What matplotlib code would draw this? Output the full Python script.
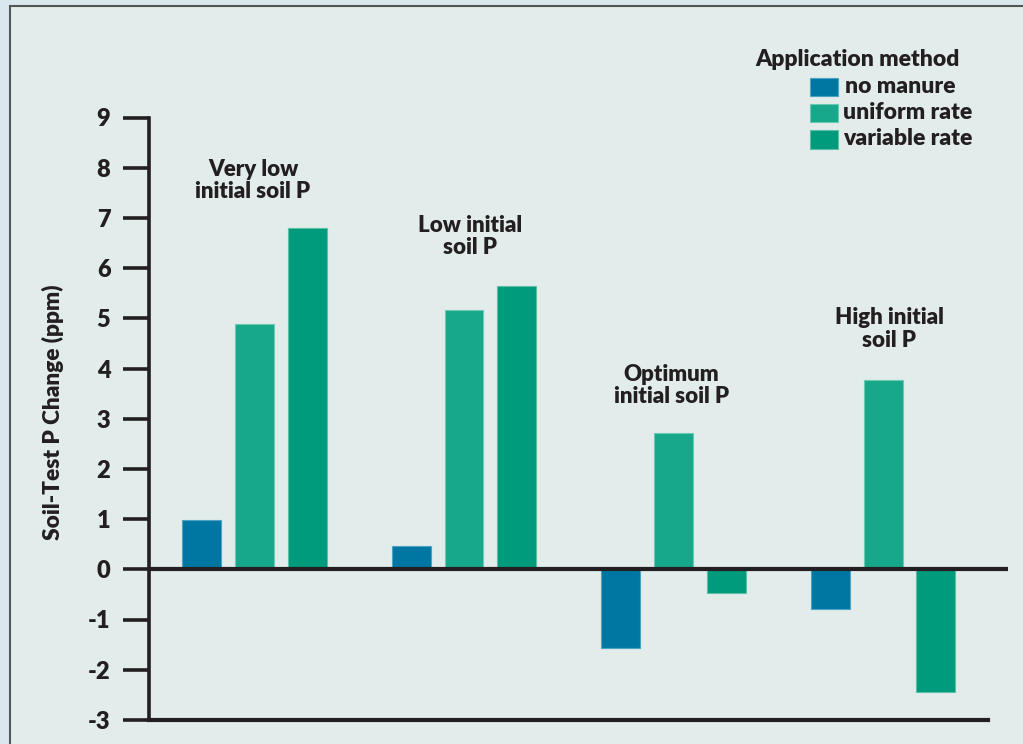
import matplotlib
matplotlib.use("Agg")
import matplotlib.pyplot as plt
from matplotlib.patches import Rectangle

# ---- data ----
groups = ["Very low\ninitial soil P", "Low initial\nsoil P", "Optimum\ninitial soil P", "High initial\nsoil P"]
series_names = ["no manure", "uniform rate", "variable rate"]
no_manure = [0.98, 0.47, -1.56, -0.79]
uniform_rate = [4.88, 5.17, 2.71, 3.78]
variable_rate = [6.79, 5.65, -0.48, -2.45]
y_ticks = [-3, -2, -1, 0, 1, 2, 3, 4, 5, 6, 7, 8, 9]

# ---- style ----
colors = ["#0077a2", "#17a88b", "#009a7c"]
edge_colors = ["#4aa3c0", "#6cc9b3", "#5cc0a6"]
dark = "#231f20"
panel_bg = "#e2ecea"
outer_bg = "#d9e8ef"
WEIGHT = "heavy"
plt.rcParams['font.family'] = ["Lato", "DejaVu Sans"]
plt.rcParams['font.weight'] = WEIGHT

W, H = 1023, 744
fig = plt.figure(figsize=(W / 100, H / 100), dpi=100)
fig.patch.set_facecolor(outer_bg)

def fx(px):
    return px / W

def fy(py):
    return 1 - py / H

# panel
panel = Rectangle((fx(10), fy(H + 20)), fx(W + 20) - fx(10), fy(6) - fy(H + 20),
                  transform=fig.transFigure, facecolor=panel_bg, edgecolor="#555555",
                  linewidth=1.5, zorder=-5)
fig.patches.append(panel)

# axes: x pixels 149.3..1007.7 ; y pixels 117.5..719.9
ax = fig.add_axes([fx(149.3), fy(719.9), fx(1007.7) - fx(149.3), fy(117.5) - fy(719.9)])
ax.set_zorder(2)
ax.set_facecolor("none")
ax.set_xlim(-0.502, 3.595)
ax.set_ylim(-3, 9)

width = 0.186
offset = 0.251
series = [no_manure, uniform_rate, variable_rate]
for i, vals in enumerate(series):
    xs = [g + (i - 1) * offset for g in range(len(groups))]
    ax.bar(xs, vals, width=width, color=colors[i], edgecolor=edge_colors[i],
           linewidth=0.8, zorder=2)

ax.axhline(0, color=dark, lw=3, zorder=3)
ax.axhline(-3, xmin=0, xmax=0.977, color=dark, lw=3, zorder=3, clip_on=False)

for s in ["top", "right", "bottom"]:
    ax.spines[s].set_visible(False)
ax.spines["left"].set_color(dark)
ax.spines["left"].set_linewidth(2.6)
ax.set_xticks([])
ax.set_yticks(y_ticks)
ax.set_yticklabels([str(t) for t in y_ticks])
ax.tick_params(axis="y", length=19, width=2.6, color=dark, pad=9,
               labelsize=17, labelcolor=dark)
for lab in ax.get_yticklabels():
    lab.set_fontweight(WEIGHT)

fig.text(fx(53), fy(412), "Soil-Test P Change (ppm)", rotation=90, ha="center",
         va="center", fontsize=16.3, fontweight=WEIGHT, color=dark)

# group labels
label_pos = [(-0.007, 7.745), (1.03, 6.63), (1.99, 3.66), (3.03, 4.78)]
for (x, y), txt in zip(label_pos, groups):
    ax.text(x, y, txt, ha="center", va="center", fontsize=16, fontweight=WEIGHT,
            color=dark, linespacing=1.1, zorder=4)

# legend
fig.text(fx(755), fy(60), "Application method", ha="left", va="center",
         fontsize=16.5, fontweight=WEIGHT, color=dark)
leg_y = [(78.3, 95.7), (104, 122), (130, 148.7)]
leg_tx = [845, 842.7, 843]
leg_ty = [86.7, 112.7, 138.3]
for i, name in enumerate(series_names):
    y0, y1 = leg_y[i]
    r = Rectangle((fx(810), fy(y1)), fx(838) - fx(810), fy(y0) - fy(y1),
                  transform=fig.transFigure, facecolor=colors[i],
                  edgecolor=edge_colors[i], linewidth=0.8)
    fig.patches.append(r)
    fig.text(fx(leg_tx[i]), fy(leg_ty[i]), name, ha="left", va="center",
             fontsize=16.5, fontweight=WEIGHT, color=dark)

fig.savefig("out.png", dpi=100, facecolor=fig.get_facecolor())
